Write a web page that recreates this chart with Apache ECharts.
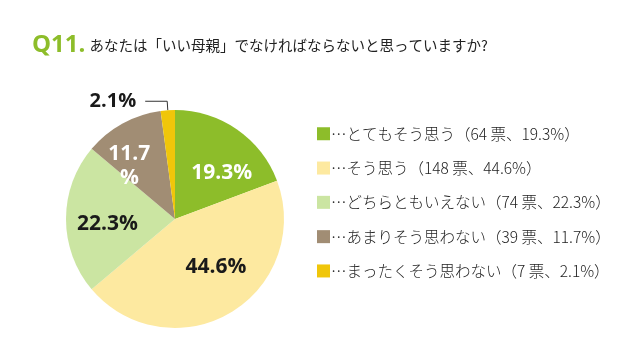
<!DOCTYPE html>
<html><head><meta charset="utf-8">
<script src="https://cdn.jsdelivr.net/npm/echarts@6/dist/echarts.min.js"></script>
<style>html,body{margin:0;padding:0;background:#fff}#c{width:640px;height:355px}</style>
</head><body><div id="c"></div>
<script>
const categories = ['とてもそう思う','そう思う','どちらともいえない','あまりそう思わない','まったくそう思わない'];
const votes = [64, 148, 74, 39, 7];
const percents = [19.3, 44.6, 22.3, 11.7, 2.1];
const colors = ['#8dbd2a','#fde9a0','#cbe5a2','#a18d74','#f0c60a'];
const labelColors = ['#ffffff','#1a1a1a','#1a1a1a','#ffffff','#1a1a1a'];
const labelTexts = ['19.3%','44.6%','22.3%','11.7\n%','2.1%'];
const titleQ = 'Q11.';
const titleText = 'あなたは「いい母親」でなければならないと思っていますか?';

const FONT = '"Noto Sans CJK JP","Noto Sans",sans-serif';
const labelShift = [[14,1],[12,-2],[-10,5],[-18,-3],[-4,0]];

const chart = echarts.init(document.getElementById('c'));
chart.setOption({
  backgroundColor:'#fff',
  animation:false,
  title:{
    left:27, top:28,
    text:'{q|' + titleQ + '}{t|' + titleText + '}',
    textStyle:{
      rich:{
        q:{fontSize:24,fontWeight:'bold',color:'#8dbd2a',fontFamily:'"Open Sans","Noto Sans",sans-serif',padding:[0,4,0,0]},
        t:{fontSize:14.5,fontWeight:'normal',color:'#222',fontFamily:FONT}
      }
    }
  },
  legend:{
    orient:'vertical', left:312, top:121,
    itemWidth:13, itemHeight:13, itemGap:18.8,
    icon:'rect',
    textStyle:{fontSize:15.5,fontWeight:300,color:'#222',fontFamily:FONT,padding:[0,0,0,-4]},
    formatter:function(name){
      const i = categories.indexOf(name);
      return '…' + name + '（' + votes[i] + ' 票、' + percents[i] + '%）';
    },
    data:categories
  },
  series:[{
    type:'pie',
    center:[175,219],
    radius:[0,109],
    startAngle:90,
    clockwise:true,
    label:{show:true, position:'inside', fontSize:21, fontWeight:'bold', fontFamily:'"Open Sans","Noto Sans",sans-serif', lineHeight:24},
    labelLine:{show:false},
    labelLayout:function(p){
      const s = labelShift[p.dataIndex];
      return {dx:s[0], dy:s[1]};
    },
    itemStyle:{borderColor:'#fff',borderWidth:0},
    emphasis:{disabled:true},
    data:categories.map(function(c,i){
      const d = {name:c, value:votes[i], itemStyle:{color:colors[i]},
        label:{formatter:labelTexts[i], color:labelColors[i]}};
      if(i===4){
        d.label.position='outside';
        d.label.distanceToLabelLine = 5;
        d.label.fontSize = 20;
        d.labelLine = {show:true, length:9, length2:22, smooth:false, lineStyle:{color:'#333',width:1}};
      }
      return d;
    })
  }]
});
</script></body></html>
